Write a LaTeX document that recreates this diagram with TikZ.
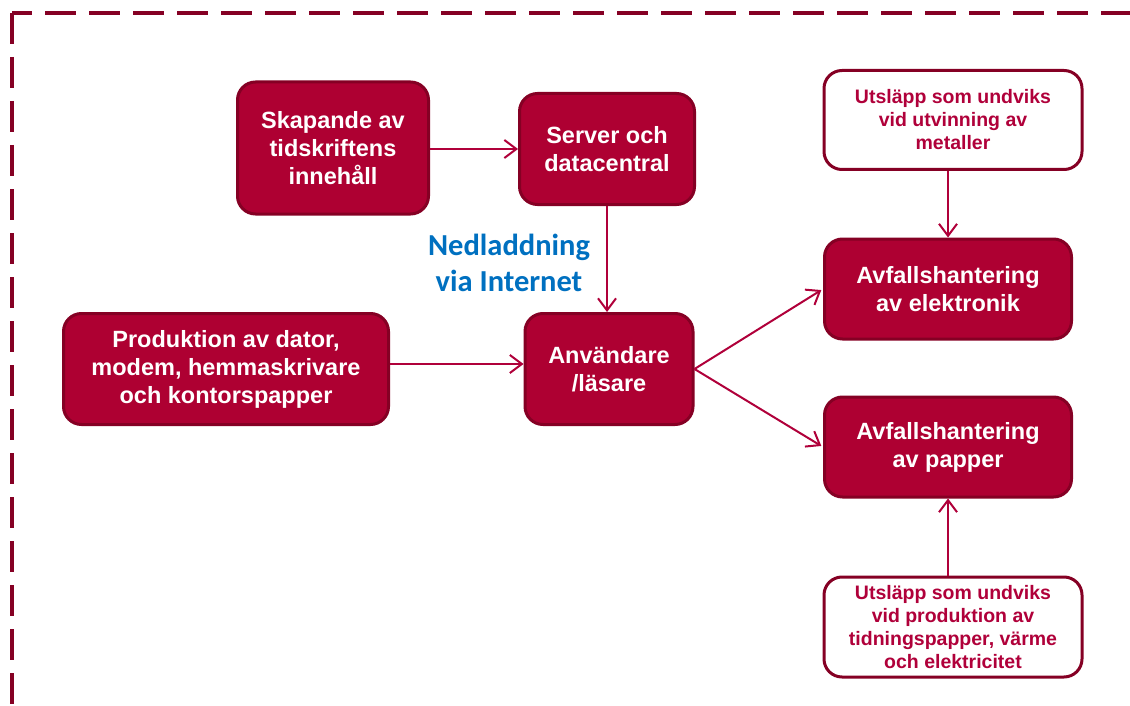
\documentclass[tikz,border=0pt]{standalone}
\usepackage{fontspec}
\setmainfont{Liberation Sans}
\newfontfamily\carl{Carlito}
\usetikzlibrary{arrows.meta}
\definecolor{boxfill}{HTML}{AE0032}
\definecolor{boxline}{HTML}{850024}
\definecolor{arrowc}{HTML}{B0003A}
\definecolor{blue1}{HTML}{0070C0}
\begin{document}
\begin{tikzpicture}[x=1pt,y=-1pt,
  redbox/.style={draw=boxline, line width=3pt, fill=boxfill, rounded corners=18pt,
    text=white, font=\bfseries\fontsize{23.5}{28}\selectfont, align=center, inner sep=0pt},
  whitebox/.style={draw=boxline, line width=3pt, fill=white, rounded corners=18pt,
    text=arrowc, font=\bfseries\fontsize{19.5}{23}\selectfont, align=center, inner sep=0pt},
  conn/.style={draw=arrowc, line width=2pt, -{Straight Barb[length=12pt,width=18pt,line width=2pt]}}
]
\useasboundingbox (0,0) rectangle (1130,706);
% dashed frame
\draw[boxline, line width=3.5pt, dash pattern=on 31pt off 13pt] (12,13) -- (12,706);
\draw[boxline, line width=3.5pt, dash pattern=on 31pt off 13pt, dash phase=11pt] (12,13) -- (1130,13);

\node[redbox, minimum width=191pt, minimum height=132pt] (skap) at (333,148) {Skapande av\\tidskriftens\\innehåll};
\node[redbox, minimum width=175pt, minimum height=111pt] (srv) at (607,149) {Server och\\datacentral};
\node[redbox, minimum width=325pt, minimum height=111pt] (prod) at (226,369) {Produktion av dator,\\modem, hemmaskrivare\\och kontorspapper};
\node[redbox, minimum width=168pt, minimum height=111pt] (user) at (609,369) {Användare\\/läsare};
\node[redbox, minimum width=247pt, minimum height=100pt] (elec) at (948,289) {Avfallshantering\\av elektronik};
\node[redbox, minimum width=247pt, minimum height=100pt] (pap) at (948,447) {Avfallshantering\\av papper};
\node[whitebox, minimum width=258pt, minimum height=99pt] (met) at (953,120) {Utsläpp som undviks\\vid utvinning av\\metaller};
\node[whitebox, minimum width=258pt, minimum height=100pt] (tid) at (953,627) {Utsläpp som undviks\\vid produktion av\\tidningspapper, värme\\och elektricitet};

\node[text=blue1, font=\carl\bfseries\fontsize{30.5}{36}\selectfont, align=center] (dl) at (509,263) {Nedladdning\\via Internet};

\draw[conn] (skap.east |- srv.west) -- (srv.west);
\draw[conn] (srv.south) -- (srv.south |- user.north);
\draw[conn] (prod.east |- 0,364) -- (user.west |- 0,364);
\draw[conn, shorten >=2pt] (user.east) -- (elec.west);
\draw[conn, shorten >=2pt] (user.east) -- (pap.west);
\draw[conn] (met.south -| elec.north) -- (elec.north);
\draw[conn] (tid.north -| pap.south) -- (pap.south);
\end{tikzpicture}
\end{document}
